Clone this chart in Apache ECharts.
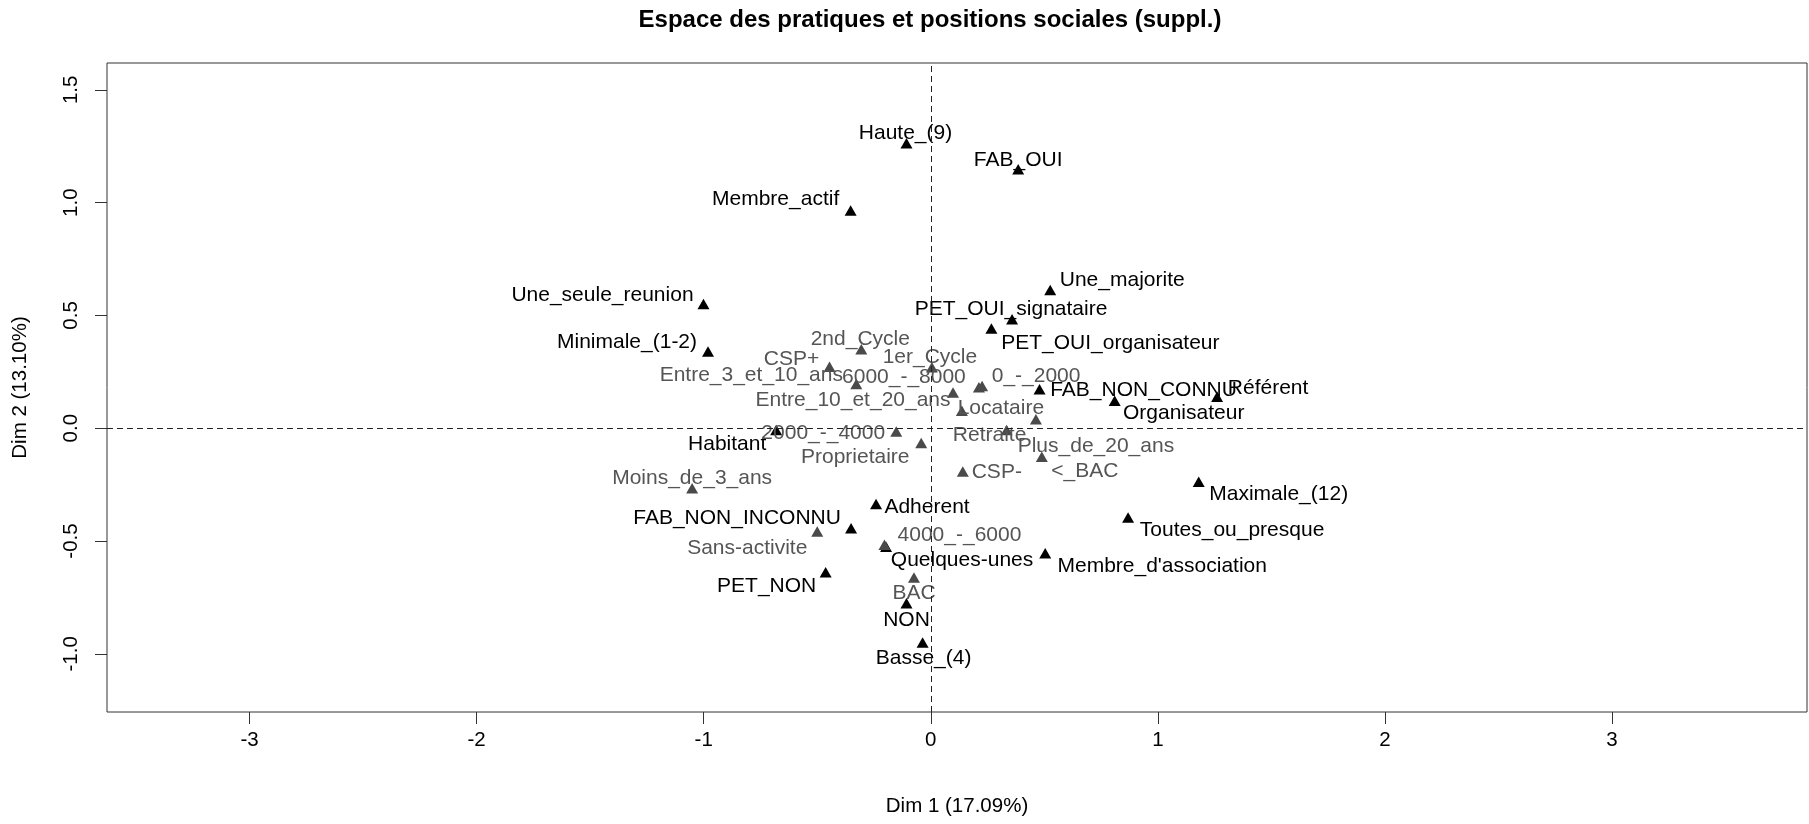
<!DOCTYPE html>
<html>
<head>
<meta charset="utf-8">
<title>Espace des pratiques et positions sociales</title>
<script src="https://cdn.jsdelivr.net/npm/echarts@6/dist/echarts.min.js"></script>
<style>
html,body{margin:0;padding:0;background:#fff;}
#main{width:1809px;height:824px;}
</style>
</head>
<body>
<div id="main"></div>
<script>
// modalites actives (triangles noirs)
var activeNames = ["Haute_(9)","FAB_OUI","Membre_actif","Une_majorite","Une_seule_reunion",
    "PET_OUI_signataire","PET_OUI_organisateur","Minimale_(1-2)","FAB_NON_CONNU","Référent",
    "Organisateur","Habitant","Maximale_(12)","Toutes_ou_presque","Adherent",
    "FAB_NON_INCONNU","Quelques-unes","Membre_d'association","PET_NON","NON","Basse_(4)"];
var activeX = [-0.107, 0.385, -0.353, 0.526, -1.001,
    0.358, 0.267, -0.981, 0.479, 1.261,
    0.810, -0.681, 1.180, 0.869, -0.241,
    -0.351, -0.197, 0.504, -0.463, -0.107, -0.036];
var activeY = [1.263, 1.148, 0.965, 0.613, 0.551,
    0.483, 0.442, 0.340, 0.173, 0.140,
    0.122, -0.008, -0.237, -0.396, -0.336,
    -0.443, -0.525, -0.554, -0.638, -0.776, -0.950];

// modalites supplementaires (gris)
var supNames = ["2nd_Cycle","CSP+","1er_Cycle","Entre_3_et_10_ans","6000_-_8000",
    "0_-_2000","Entre_10_et_20_ans","Locataire","Plus_de_20_ans","Retraite",
    "<_BAC","CSP-","2000_-_4000","Proprietaire","Moins_de_3_ans",
    "Sans-activite","4000_-_6000","BAC"];
var supX = [-0.306, -0.446, 0.005, -0.328, 0.212,
    0.226, 0.098, 0.137, 0.463, 0.334,
    0.489, 0.141, -0.152, -0.042, -1.051,
    -0.500, -0.204, -0.074];
var supY = [0.350, 0.273, 0.270, 0.196, 0.182,
    0.187, 0.158, 0.077, 0.040, -0.008,
    -0.127, -0.192, -0.014, -0.065, -0.266,
    -0.458, -0.517, -0.662];

var xTicks = [-3, -2, -1, 0, 1, 2, 3];
var yTicks = [-1, -0.5, 0, 0.5, 1, 1.5];

// decalage des etiquettes en px (comme le placement de R)
var activeShift = [[-1,-10],[0,-9],[-75,-11],[72,-10],[-101,-9],
    [-1,-10],[119,15],[-81,-9],[104,1],[51,-8],
    [69,13],[-49,14],[80,13],[104,13],[51,3],
    [-114,-10],[76,14],[117,13],[-59,14],[0,17],[1,16]];
var supShift = [[-1,-10],[-38,-7],[-2,-10],[-105,-9],[-75,-10],
    [54,-10],[-100,8],[39,-3],[60,27],[-17,5],
    [43,14],[34,1],[-73,2],[-66,14],[0,-10],
    [-70,17],[75,-10],[0,16]];

(function(window){
    var FONT = 'Liberation Sans, Arial, sans-serif';
    var Plot = {
        init: function(){
            var myChart = echarts.init(document.getElementById('main'), null, {renderer: 'canvas'});
            myChart.setOption(this.buildOption());
        },
        points: function(names, xs, ys, shifts){
            var out = [];
            for(var i=0;i<names.length;i++){
                out.push({
                    name: names[i],
                    value: [xs[i], ys[i]],
                    label: {offset: shifts[i]}
                });
            }
            return out;
        },
        buildOption: function(){
            var labelBase = {
                show: true,
                position: 'inside',
                align: 'center',
                verticalAlign: 'middle',
                fontFamily: FONT,
                fontSize: 21,
                textBorderWidth: 0,
                formatter: '{b}'
            };
            return {
                animation: false,
                backgroundColor: '#fff',
                graphic: [{
                    type: 'text',
                    x: 930, y: 20,
                    style: {
                        text: 'Espace des pratiques et positions sociales (suppl.)',
                        font: 'bold 24px ' + FONT,
                        fill: '#000',
                        textAlign: 'center',
                        textVerticalAlign: 'middle'
                    }
                }],
                grid: {
                    left: 107, right: 2, top: 63, bottom: 112,
                    show: true, borderColor: '#333', borderWidth: 1
                },
                xAxis: {
                    type: 'value',
                    min: -3.628, max: 3.859,
                    name: 'Dim 1 (17.09%)',
                    nameLocation: 'middle',
                    nameGap: 84,
                    nameTextStyle: {fontFamily: FONT, fontSize: 20.5, color: '#000'},
                    axisLine: {show: false, onZero: false},
                    splitLine: {show: false},
                    axisTick: {show: true, length: 12, customValues: xTicks, lineStyle: {color: '#333'}},
                    axisLabel: {
                        customValues: xTicks, margin: 18,
                        fontFamily: FONT, fontSize: 20.5, color: '#000'
                    }
                },
                yAxis: {
                    type: 'value',
                    min: -1.258, max: 1.619,
                    name: 'Dim 2 (13.10%)',
                    nameLocation: 'middle',
                    nameGap: 76,
                    nameRotate: 90,
                    nameTextStyle: {fontFamily: FONT, fontSize: 20.5, color: '#000'},
                    axisLine: {show: false, onZero: false},
                    splitLine: {show: false},
                    axisTick: {show: true, length: 12, customValues: yTicks, lineStyle: {color: '#333'}},
                    axisLabel: {
                        customValues: yTicks, rotate: 90, margin: 25,
                        fontFamily: FONT, fontSize: 20.5, color: '#000',
                        formatter: function(v){ return v.toFixed(1); }
                    }
                },
                series: [
                    {
                        name: 'actives',
                        type: 'scatter',
                        symbol: 'triangle',
                        symbolSize: [12, 10.5],
                        itemStyle: {color: '#000', opacity: 1},
                        label: echarts.util.extend({color: '#000'}, labelBase),
                        data: this.points(activeNames, activeX, activeY, activeShift),
                        markLine: {
                            silent: true,
                            symbol: ['none', 'none'],
                            label: {show: false},
                            lineStyle: {type: [6, 4], color: '#222', width: 1},
                            data: [{xAxis: 0}, {yAxis: 0}]
                        }
                    },
                    {
                        name: 'supplementaires',
                        type: 'scatter',
                        symbol: 'triangle',
                        symbolSize: [12, 10.5],
                        itemStyle: {color: '#4a4a4a', opacity: 1},
                        label: echarts.util.extend({color: '#555'}, labelBase),
                        data: this.points(supNames, supX, supY, supShift)
                    }
                ]
            };
        }
    };
    window.Plot = Plot;
}(window));

Plot.init();
</script>
</body>
</html>
